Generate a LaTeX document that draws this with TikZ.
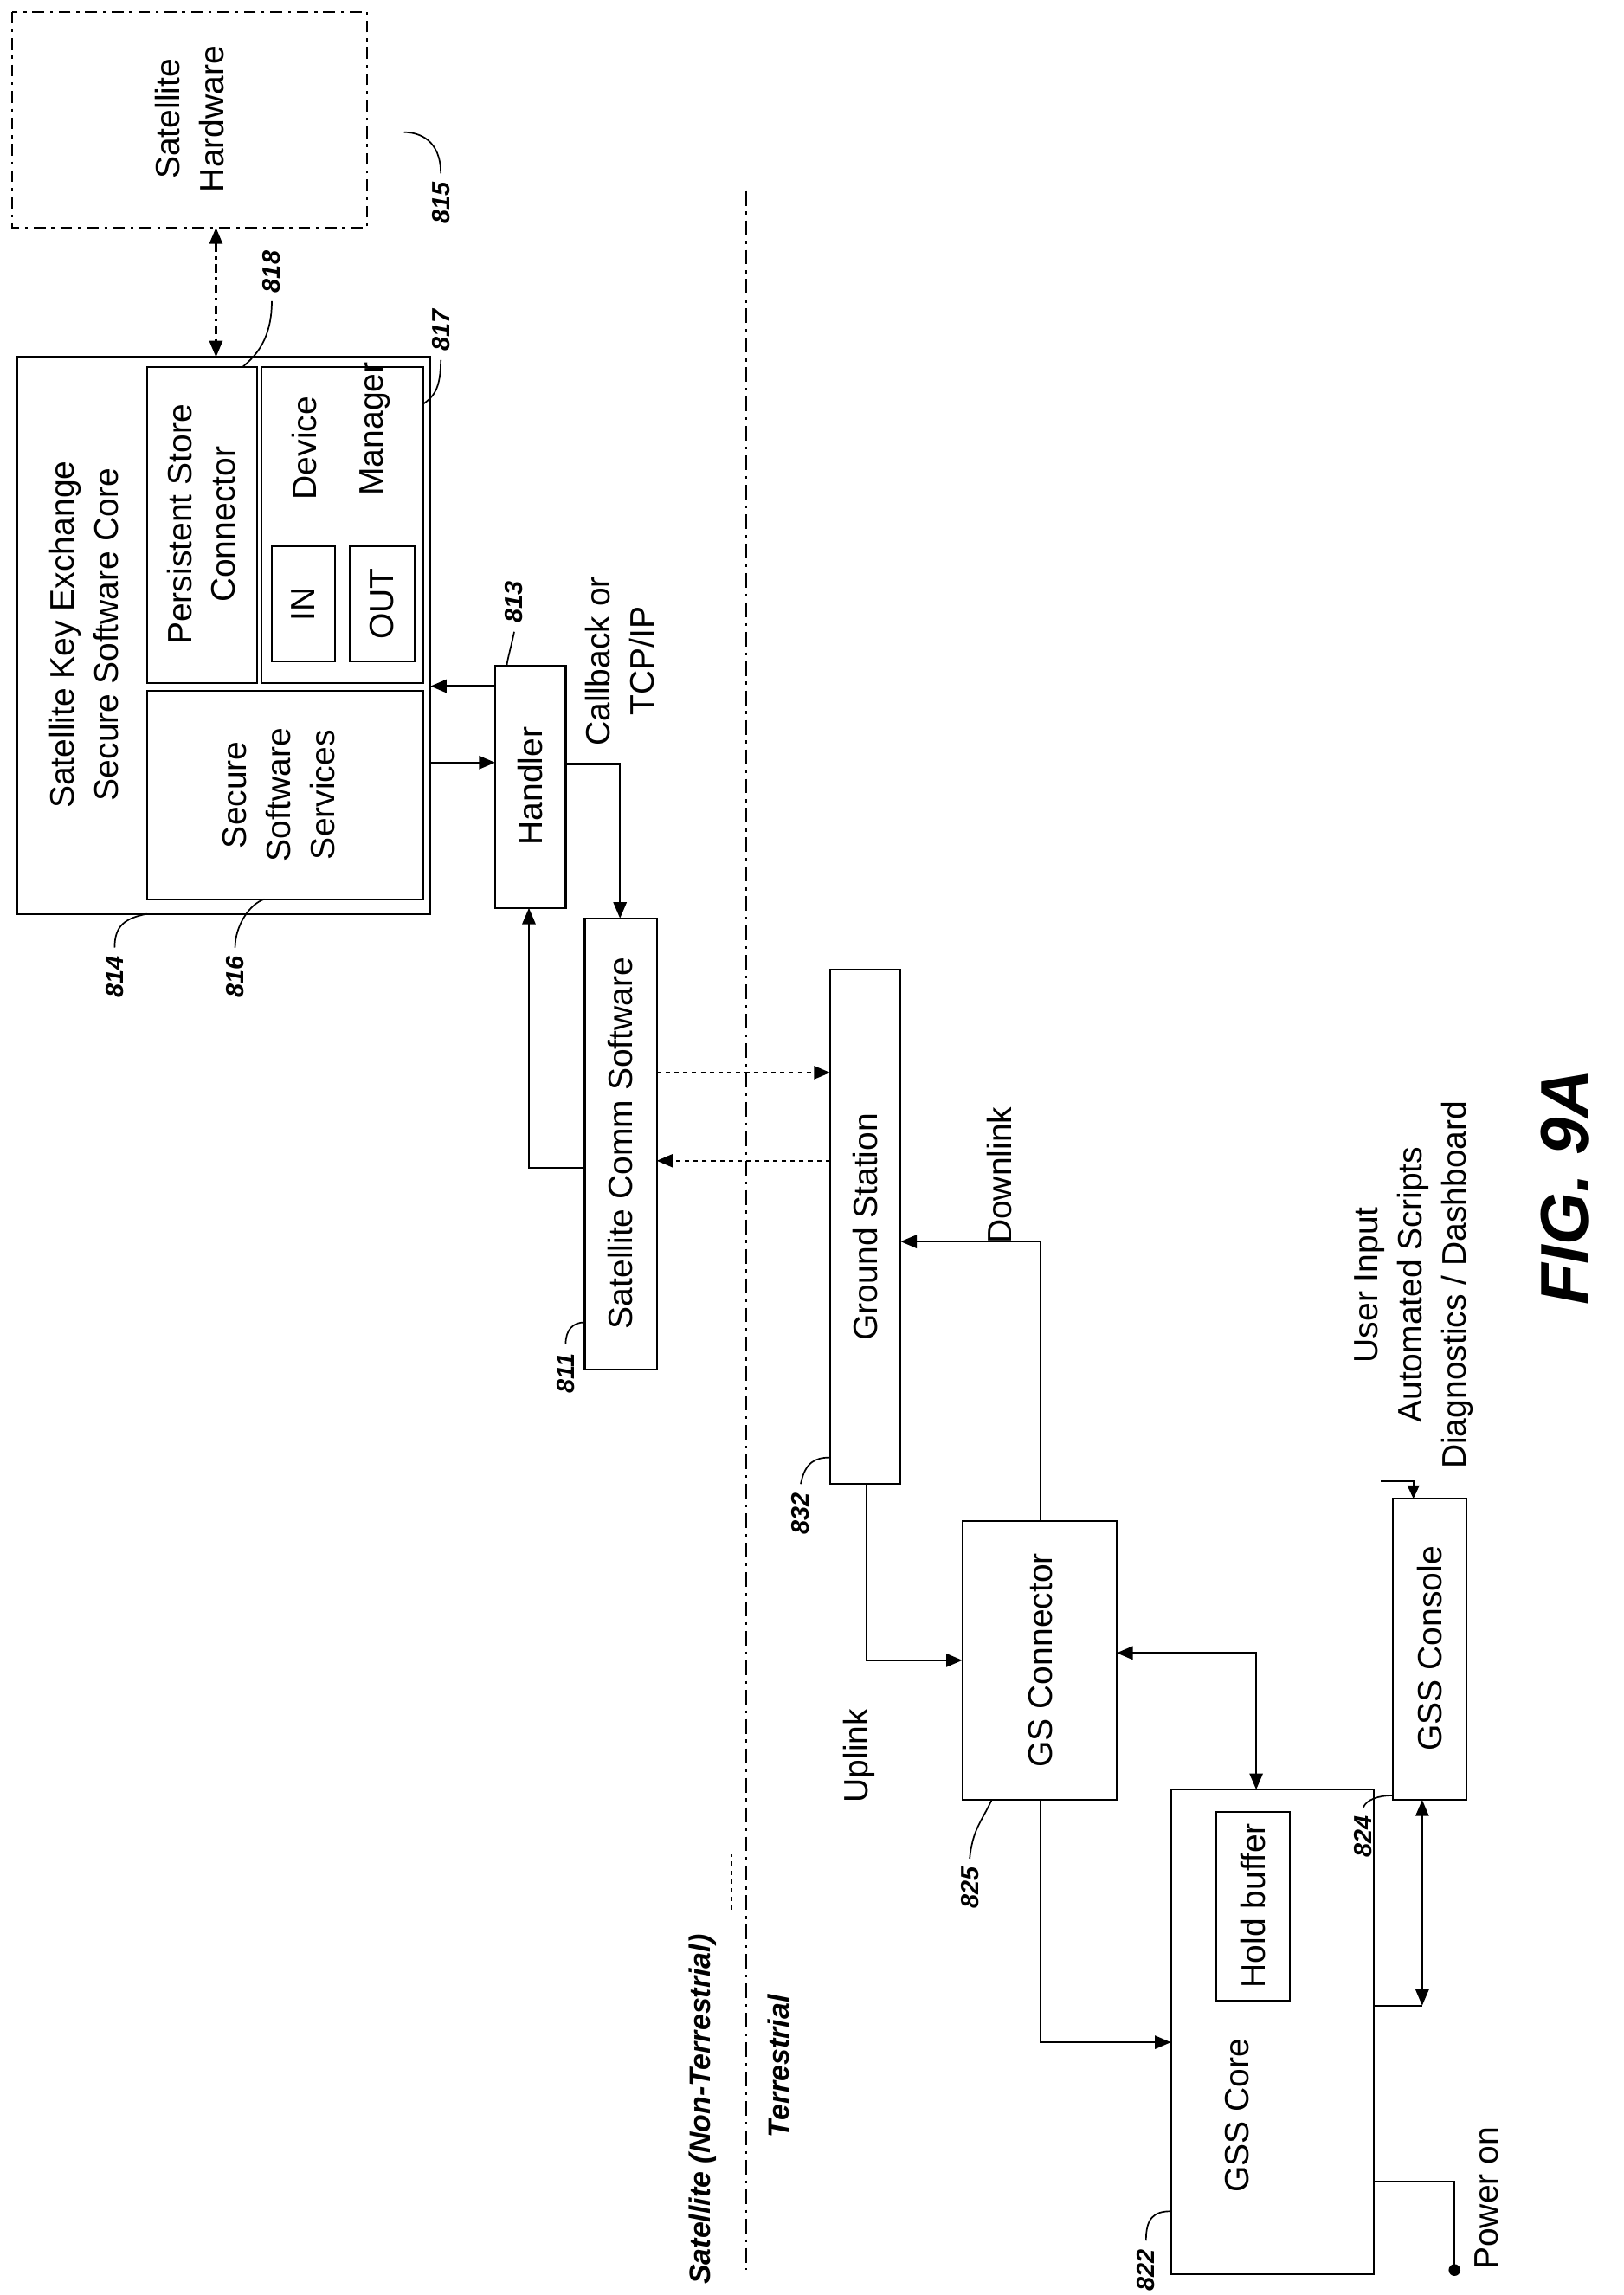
\documentclass[tikz,border=0pt]{standalone}
\usepackage{fontspec}
\setmainfont{Liberation Sans}
\usetikzlibrary{arrows.meta}
\begin{document}
\begin{tikzpicture}[x=1pt,y=-1pt,
 box/.style={draw,line width=1.3pt},
 dd/.style={line width=1.2pt,dash pattern=on 8pt off 4pt on 2pt off 4pt},
 txt/.style={rotate=90,font=\fontsize{23}{30}\selectfont,align=center,inner sep=0},
 lab/.style={rotate=90,font=\fontsize{17}{20}\selectfont\bfseries\itshape,inner sep=0},
 ar/.style={line width=1.3pt,-{Triangle[length=11pt,width=9pt]}},
 dar/.style={line width=1.3pt,{Triangle[length=11pt,width=9pt]}-{Triangle[length=11pt,width=9pt]}},
 lead/.style={line width=1pt}]
\useasboundingbox (0,0) rectangle (1105,1562);
% satellite hardware
\draw[dd] (8,8) rectangle (250,155);
\node[txt] (hw) at (129,81) {Satellite\\Hardware};
\node[lab] (l815) at (300,138) {815};
\draw[lead] (300,118) .. controls (300,95) and (285,90) .. (275,90);
% core
\draw[box] (12,243) rectangle (293,622); \node (core) at (152,432) {};
\node[txt] at (57,432) {Satellite Key Exchange\\Secure Software Core};
\draw[box] (100,250) rectangle (175,465); \node (psc) at (137,357) {};
\node[txt] at (137,357) {Persistent Store\\Connector};
\draw[box] (178,250) rectangle (288,465);
\node[txt] at (207,305) {Device};
\node[txt] at (255,292) {Manager};
\draw[box] (185,372) rectangle (228,450); \node[txt] at (206,411) {IN};
\draw[box] (238,372) rectangle (282,450); \node[txt] at (260,411) {OUT};
\draw[box] (100,470) rectangle (288,612);
\node[txt] at (190,541) {Secure\\Software\\Services};
\draw[line width=1.2pt,dash pattern=on 6pt off 3pt on 2pt off 3pt,{Triangle[length=11pt,width=9pt]}-{Triangle[length=11pt,width=9pt]}] (147,155) -- (147,243);
% labels
\node[lab] (l814) at (78,665) {814}; \draw[lead] (78,645) .. controls (78,630) and (85,625) .. (100,622);
\node[lab] (l816) at (160,665) {816}; \draw[lead] (160,645) .. controls (160,630) and (170,615) .. (180,612);
\node[lab] (l818) at (185,185) {818}; \draw[lead] (185,205) .. controls (185,235) and (170,245) .. (165,250);
\node[lab] (l817) at (300,225) {817}; \draw[lead] (300,245) .. controls (300,265) and (295,270) .. (288,275);
% handler
\draw[box] (337,453) rectangle (385,618);
\node[txt] (hand) at (361,535) {Handler};
\node[lab] at (350,410) {813}; \draw[lead] (350,430) .. controls (348,440) and (345,450) .. (345,453);
\draw[ar] (337,467) -- (293,467);
\draw[ar] (293,519) -- (337,519);
\node[txt] at (422,450) {Callback or\\TCP/IP};
% comm
\draw[box] (398,625) rectangle (447,932);
\node[txt] (comm) at (422,778) {Satellite Comm Software};
\node[lab] at (385,935) {811}; \draw[lead] (385,915) .. controls (385,905) and (390,900) .. (398,900);
\draw[ar] (385,520) -- (422,520) -- (422,625);
\draw[ar] (398,795) -- (360,795) -- (360,618);
% divider
\draw[line width=1.2pt,dash pattern=on 10pt off 4pt on 2pt off 4pt] (508,130) -- (508,1545);
% ground station
\draw[box] (565,660) rectangle (613,1010);
\node[txt] (gs) at (589,835) {Ground Station};
\node[lab] at (545,1030) {832}; \draw[lead] (545,1010) .. controls (548,995) and (555,992) .. (565,992);
\draw[line width=1.2pt,dashed,-{Triangle[length=11pt,width=9pt]}] (447,730) -- (565,730);
\draw[line width=1.2pt,dashed,-{Triangle[length=11pt,width=9pt]}] (565,790) -- (447,790);
% GS connector
\draw[box] (655,1035) rectangle (760,1225);
\node[txt] (gsc) at (708,1130) {GS Connector};
\node[lab] at (660,1285) {825}; \draw[lead] (660,1265) .. controls (662,1245) and (668,1240) .. (675,1225);
\draw[ar] (708,1035) -- (708,845) -- (613,845);
\node[txt] at (680,800) {Downlink};
\draw[ar] (590,1010) -- (590,1130) -- (655,1130);
\node[txt] at (585,1195) {Uplink};
% GSS core
\draw[box] (797,1218) rectangle (935,1548);
\node[txt] (gssc) at (842,1440) {GSS Core};
\draw[box] (828,1233) rectangle (878,1362);
\node[txt] at (853,1297) {Hold buffer};
\node[lab] at (780,1545) {822}; \draw[lead] (780,1525) .. controls (780,1510) and (785,1505) .. (797,1505);
\draw[ar] (708,1225) -- (708,1390) -- (797,1390);
\draw[dar] (760,1125) -- (855,1125) -- (855,1218);
% console
\draw[box] (948,1020) rectangle (998,1225);
\node[txt] (cons) at (973,1122) {GSS Console};
\node[lab] at (928,1250) {824}; \draw[lead] (928,1230) .. controls (930,1225) and (938,1222) .. (948,1222);
\draw[dar] (968,1365) -- (968,1225);
\draw[line width=1.3pt] (935,1365) -- (968,1365);
\node[txt,anchor=west] (ui) at (962,1000) {User Input\\Automated Scripts\\Diagnostics / Dashboard};
\draw[line width=1.3pt,-{Triangle[length=9pt,width=8pt]}] (940,1008) -- (962,1008) -- (962,1020);
% power
\draw[line width=1.3pt] (935,1485) -- (990,1485) -- (990,1545);
\fill (990,1545) circle (4);
\node[txt,anchor=west] at (1012,1545) {Power on};
% side labels
\node[lab,anchor=west,font=\fontsize{20}{24}\selectfont\bfseries\itshape] at (478,1555) {Satellite (Non-Terrestrial)};
\draw[line width=1.2pt,dashed] (498,1300) -- (498,1262);
\node[lab,anchor=west,font=\fontsize{20}{24}\selectfont\bfseries\itshape] at (530,1455) {Terrestrial};
\node[lab,font=\fontsize{46}{50}\selectfont\bfseries\itshape] at (1065,808) {FIG. 9A};
\end{tikzpicture}
\end{document}
